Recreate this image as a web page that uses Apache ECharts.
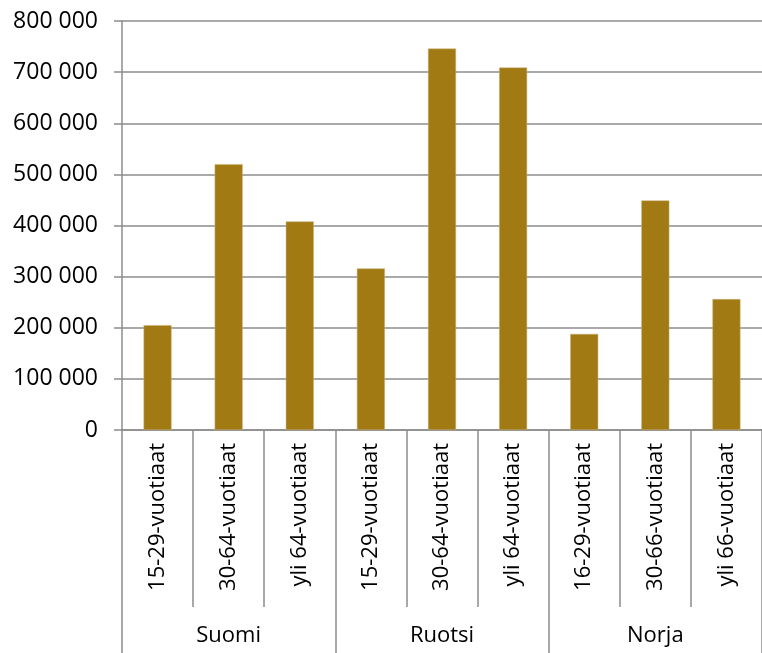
<!DOCTYPE html>
<html><head><meta charset="utf-8">
<script src="https://cdn.jsdelivr.net/npm/echarts@6/dist/echarts.min.js"></script>
<style>html,body{margin:0;padding:0;background:#fff}#c{width:762px;height:653px}</style>
</head><body><div id="c"></div>
<script>
var groups = ['Suomi', 'Ruotsi', 'Norja'];
var categories = ['15-29-vuotiaat','30-64-vuotiaat','yli 64-vuotiaat','15-29-vuotiaat','30-64-vuotiaat','yli 64-vuotiaat','16-29-vuotiaat','30-66-vuotiaat','yli 66-vuotiaat'];
var values = [205000, 520000, 408000, 316000, 746000, 709000, 188000, 449000, 256000];
var chart = echarts.init(document.getElementById('c'));
var font = '"Open Sans", Lato, sans-serif';
var gray = '#8c8c8c';
chart.setOption({
  animation: false,
  grid: {left: 122, top: 21, width: 643, bottom: 223},
  xAxis: [{
    type: 'category', data: categories, position: 'bottom',
    axisLine: {show: true, lineStyle: {color: gray, width: 1.5}},
    axisTick: {show: true, length: 177, interval: 0, lineStyle: {color: gray, width: 1.5}},
    axisLabel: {rotate: 90, margin: 13, fontSize: 22, color: '#000', fontFamily: font, interval: 0}
  }, {
    type: 'category', data: groups, position: 'bottom',
    axisLine: {show: false},
    axisTick: {show: true, length: 223, interval: 0, lineStyle: {color: gray, width: 1.5}},
    axisLabel: {margin: 195, fontSize: 22, color: '#000', fontFamily: font, interval: 0}
  }],
  yAxis: {
    type: 'value', min: 0, max: 800000, interval: 100000,
    axisLine: {show: true, lineStyle: {color: gray, width: 1.5}},
    axisTick: {show: true, length: 8, lineStyle: {color: gray, width: 1.5}},
    splitLine: {show: true, lineStyle: {color: gray, width: 1.5}},
    axisLabel: {margin: 24, fontSize: 23, color: '#000', fontFamily: font,
      formatter: function (v) { return String(v).replace(/\B(?=(\d{3})+(?!\d))/g, ' '); }}
  },
  series: [{
    type: 'bar', data: values, xAxisIndex: 0, barWidth: 28,
    itemStyle: {color: '#a17a14', borderColor: '#cbb47a', borderWidth: 0.5}
  }]
});
</script></body></html>
